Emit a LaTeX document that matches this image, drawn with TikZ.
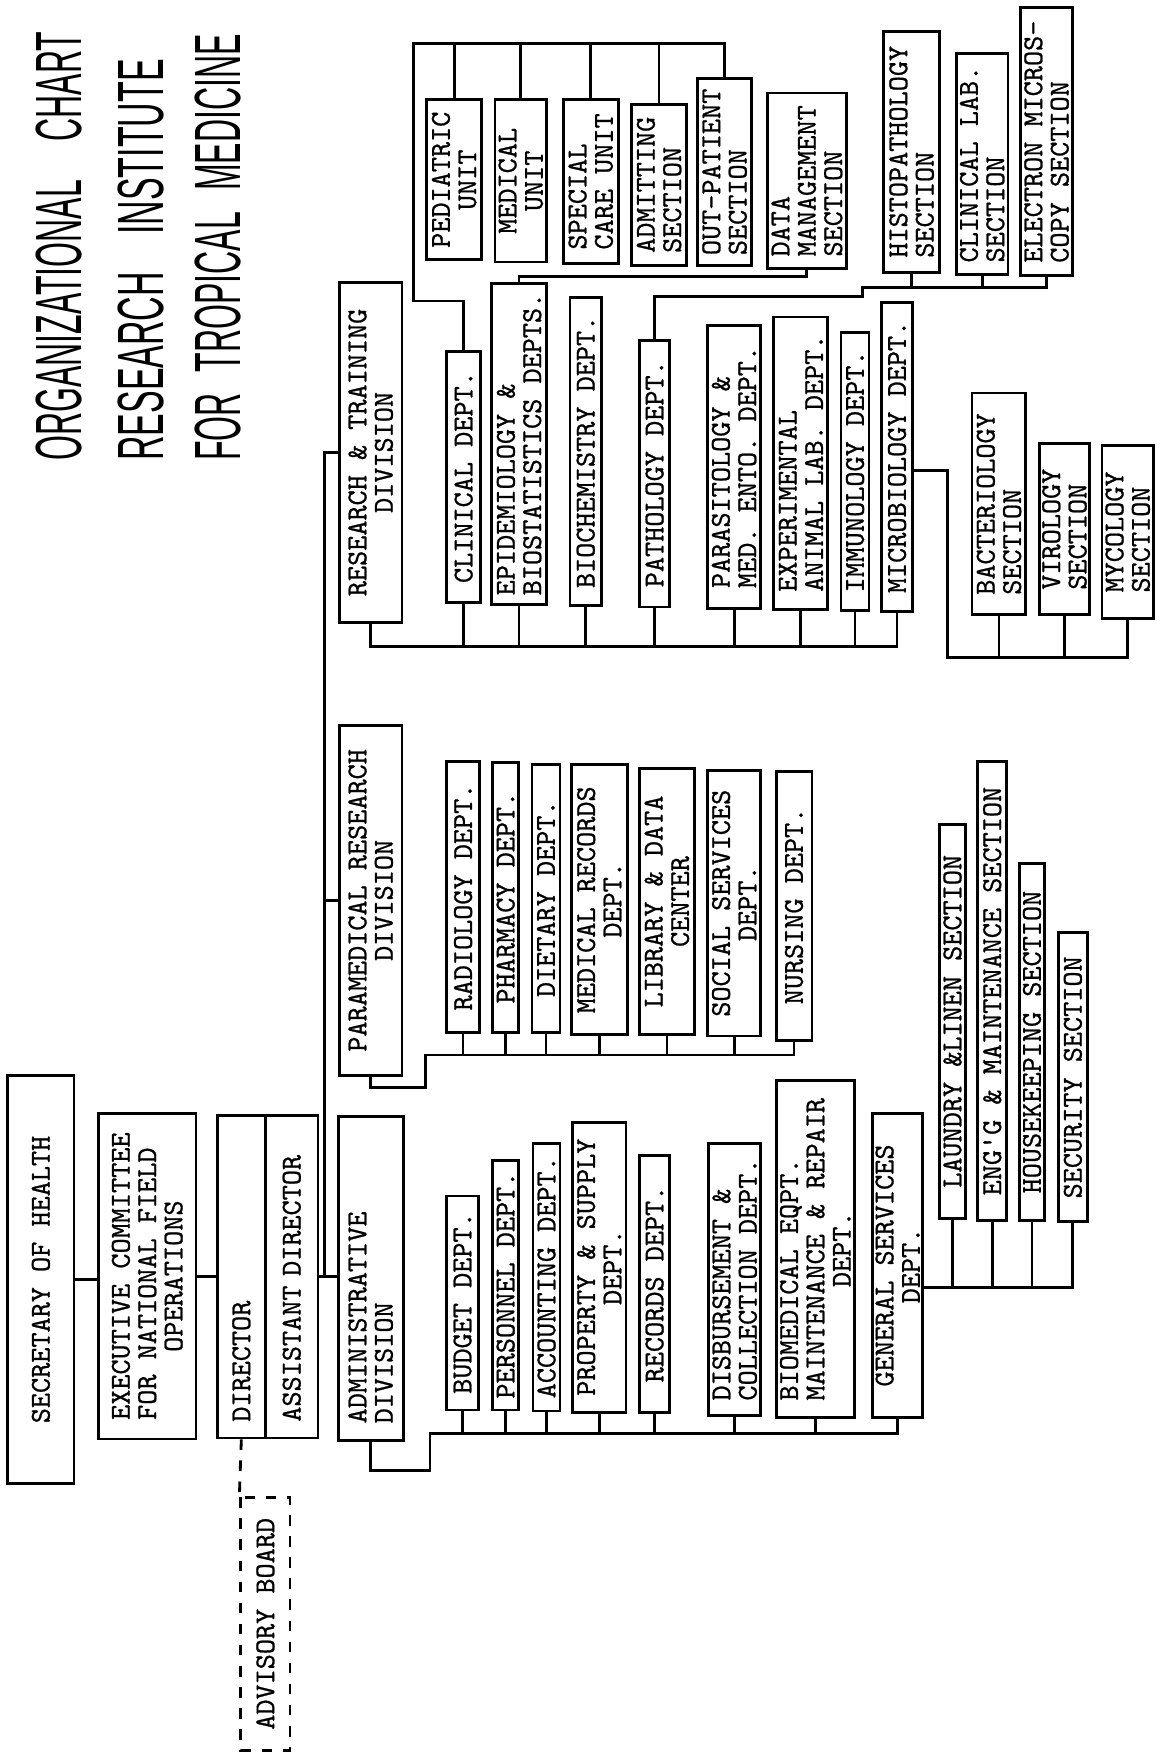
\documentclass[tikz,border=0pt]{standalone}
\usepackage{fontspec}
\usepackage{tikz}
\usetikzlibrary{positioning, calc}
\newfontfamily\typefont[FakeBold=0.8]{lmmono10-regular.otf}
\newfontfamily\titlefont[FakeStretch=0.49]{Liberation Sans}
\tikzset{
	orgbox/.style   ={rectangle, draw=black, line width=0.8pt, rotate=90, inner sep=0.8pt, font=\typefont\fontsize{8.2}{7.5}\selectfont},
	boxsize/.style 2 args={minimum width=#1*0.112mm, minimum height=#2*0.112mm},
	lefttext/.style ={align=left},
	midtext/.style  ={align=center},
	starttext/.style={text width=29mm, align=left},
	advisory/.style ={orgbox, dashed},
	link/.style     ={line width=0.8pt},
	heading/.style  ={rotate=90, anchor=base west, inner sep=0pt, font=\titlefont\fontsize{18.6}{22}\selectfont},
}
\newcommand{\gap}{\hspace{6pt}}
\begin{document}
\begin{tikzpicture}[x=0.112mm, y=-0.112mm]
	\fill[white] (0,0) rectangle (1033,1568);
	\useasboundingbox (0,0) rectangle (1033,1568);
	% title
	\node[heading] (ttl1) at (73,412) {ORGANIZATIONAL\hspace{11pt}CHART};
	\node[heading, xscale=1.06] (ttl2) at (146,412) {RESEARCH\hspace{10pt}INSTITUTE};
	\node[heading] (ttl3) at (215,412) {FOR\gap TROPICAL\gap MEDICINE};
	% top of the chart
	\node[orgbox, boxsize={365}{59}] (sec) at (36.5,1142.5) {SECRETARY OF HEALTH};
	\node[orgbox, boxsize={291}{87}, midtext] (exec) at (131.5,1139.5) {EXECUTIVE COMMITTEE\\FOR NATIONAL FIELD\phantom{E}\\OPERATIONS};
	\node[orgbox, boxsize={288}{43}, starttext] (dir) at (215.5,1140) {DIRECTOR};
	\node[orgbox, boxsize={288}{47}, starttext] (asst) at (260.5,1140) {ASSISTANT DIRECTOR};
	\node[advisory, boxsize={226}{44}] (advb) at (237,1450) {ADVISORY BOARD};
	% divisions
	\node[orgbox, boxsize={304}{56}, midtext] (rtd) at (331,404) {RESEARCH \& TRAINING\\DIVISION};
	\node[orgbox, boxsize={312}{56}, midtext] (prd) at (331,804) {PARAMEDICAL RESEARCH\\DIVISION};
	\node[orgbox, boxsize={289}{58}, starttext] (adv) at (331,1141.5) {ADMINISTRATIVE\\DIVISION};
	% research and training departments
	\node[orgbox, boxsize={224}{30}] (clin) at (414,426) {CLINICAL DEPT.};
	\node[orgbox, boxsize={287}{49}, lefttext] (epid) at (463.5,396.5) {EPIDEMIOLOGY \&\\BIOSTATISTICS DEPTS.};
	\node[orgbox, boxsize={275}{28}] (bioc) at (523,403.5) {BIOCHEMISTRY DEPT.};
	\node[orgbox, boxsize={238}{27}] (path) at (584.5,423) {PATHOLOGY DEPT.};
	\node[orgbox, boxsize={252}{47}, lefttext] (para) at (655.5,417) {PARASITOLOGY \&\\MED. ENTO. DEPT.};
	\node[orgbox, boxsize={261}{48}, lefttext] (expt) at (715,413.5) {EXPERIMENTAL\\ANIMAL LAB. DEPT.};
	\node[orgbox, boxsize={248}{25}] (immu) at (763.5,421) {IMMUNOLOGY DEPT.};
	\node[orgbox, boxsize={276}{28}] (micro) at (801,408) {MICROBIOLOGY DEPT.};
	% clinical units
	\node[orgbox, boxsize={143}{49}, midtext] (ped) at (405.5,160.5) {PEDIATRIC\\UNIT};
	\node[orgbox, boxsize={145}{46}, midtext] (medu) at (465,161.5) {MEDICAL\\UNIT};
	\node[orgbox, boxsize={146}{49}, lefttext] (scu) at (527.5,162) {SPECIAL\\CARE UNIT};
	\node[orgbox, boxsize={144}{49}, lefttext] (adm) at (588.5,165) {ADMITTING\\SECTION};
	\node[orgbox, boxsize={167}{48}, lefttext] (opd) at (647,153.5) {OUT-PATIENT\\SECTION};
	\node[orgbox, boxsize={157}{71}, lefttext] (dms) at (720.5,161.5) {DATA\\MANAGEMENT\\SECTION};
	% pathology sections
	\node[orgbox, boxsize={215}{50}, lefttext] (histo) at (814,135.5) {HISTOPATHOLOGY\\SECTION};
	\node[orgbox, boxsize={197}{46}, lefttext] (clab) at (877,146.5) {CLINICAL LAB.\\SECTION};
	\node[orgbox, boxsize={239}{47}, lefttext] (ems) at (934.5,126.5) {ELECTRON MICROS-\\COPY SECTION};
	% microbiology sections
	\node[orgbox, boxsize={198}{48}, lefttext] (bact) at (892,450) {BACTERIOLOGY\\SECTION};
	\node[orgbox, boxsize={153}{45}, lefttext] (viro) at (950.5,472.5) {VIROLOGY\\SECTION};
	\node[orgbox, boxsize={154}{46}, lefttext] (myco) at (1007,475) {MYCOLOGY\\SECTION};
	% paramedical departments
	\node[orgbox, boxsize={242}{29}] (radio) at (413.5,801) {RADIOLOGY DEPT.};
	\node[orgbox, boxsize={241}{23}] (pharm) at (451.5,801.5) {PHARMACY DEPT.};
	\node[orgbox, boxsize={239}{25}] (diet) at (487.5,802.5) {DIETARY DEPT.};
	\node[orgbox, boxsize={241}{50}, midtext] (mrec) at (535,803.5) {MEDICAL RECORDS\\DEPT.};
	\node[orgbox, boxsize={238}{49}, midtext] (libr) at (595.5,805) {LIBRARY \& DATA\\CENTER};
	\node[orgbox, boxsize={237}{47}, midtext] (socs) at (655.5,806.5) {SOCIAL SERVICES\\DEPT.};
	\node[orgbox, boxsize={240}{32}] (nurs) at (709,809) {NURSING DEPT.};
	% administrative departments
	\node[orgbox, boxsize={191}{28}] (budg) at (413,1163.5) {BUDGET DEPT.};
	\node[orgbox, boxsize={223}{23}] (pers) at (451.5,1147.5) {PERSONNEL DEPT.};
	\node[orgbox, boxsize={239}{24}] (acct) at (488,1140.5) {ACCOUNTING DEPT.};
	\node[orgbox, boxsize={259}{48}, midtext] (prop) at (535,1131.5) {PROPERTY \& SUPPLY\\DEPT.};
	\node[orgbox, boxsize={229}{27}] (recs) at (584.5,1146.5) {RECORDS DEPT.};
	\node[orgbox, boxsize={243}{46}, lefttext] (disb) at (656,1142.5) {DISBURSEMENT \&\\COLLECTION DEPT.};
	\node[orgbox, boxsize={301}{70}, midtext] (biom) at (728,1115.5) {BIOMEDICAL EQPT.\phantom{MAIN}\\MAINTENANCE \& REPAIR\\DEPT.};
	\node[orgbox, boxsize={272}{45}, midtext] (gens) at (801.5,1130) {GENERAL SERVICES\\DEPT.};
	% general services sections
	\node[orgbox, boxsize={352}{23}] (laun) at (850.5,912) {LAUNDRY \&LINEN SECTION};
	\node[orgbox, boxsize={410}{26}] (engg) at (886,885) {ENG'G \& MAINTENANCE SECTION};
	\node[orgbox, boxsize={319}{23}] (hous) at (921.5,930.5) {HOUSEKEEPING SECTION};
	\node[orgbox, boxsize={258}{26}] (secu) at (958,962) {SECURITY SECTION};
	% bends of the connectors
	\coordinate (spn) at (290,1140);
	\coordinate (cbk) at (369,39);
	\coordinate (pbk) at (770,257);
	\coordinate (mbk) at (846,587);
	\coordinate (rbus) at (331,577);
	\coordinate (pbus) at (380,942);
	\coordinate (abus) at (384,1280);
	\coordinate (mcj) at ($(micro.south)+(0,12)$);
	\coordinate (gsj) at ($(gens.south)+(0,20)$);
	% connectors
	\draw[link] (sec.south) -- (exec.north |- sec.south);
	\draw[link] (exec.south) -- (dir.north |- exec.south);
	\draw[link] (asst.south) -- (adv.north |- asst.south);
	\draw[link, dashed] (dir.west) -- (advb.north east);
	\draw[link] (spn) |- (rtd.north);
	\draw[link] (spn) |- (prd.north);
	\draw[link] (rtd.west) -- (rbus) -| (micro.west);
	\foreach \n in {clin,epid,bioc,path,para,expt,immu}
		\draw[link] (\n.west) -- (\n.west |- rbus);
	\draw[link] (clin.east) -- ++(0,-44) -| (cbk) -| (opd.east);
	\foreach \n in {ped,medu,scu,adm}
		\draw[link] (\n.east) -- (\n.east |- cbk);
	\draw[link] (epid.east) -- ++(0,-5) -| (dms.west);
	\draw[link] (path.east) -- ++(0,-38) -| (pbk) -| (ems.west);
	\foreach \n in {histo,clab}
		\draw[link] (\n.west) -- (\n.west |- pbk);
	\draw[link] (mcj) -| (mbk) -| (myco.west);
	\foreach \n in {bact,viro}
		\draw[link] (\n.west) -- (\n.west |- mbk);
	\draw[link] (prd.west) -- ++(0,10) -| (pbus) -| (nurs.west);
	\foreach \n in {radio,pharm,diet,mrec,libr,socs}
		\draw[link] (\n.west) -- (\n.west |- pbus);
	\draw[link] (adv.west) -- ++(0,26) -| (abus) -| (gens.west);
	\foreach \n in {budg,pers,acct,prop,recs,disb,biom}
		\draw[link] (\n.west) -- (\n.west |- abus);
	\draw[link] (gsj) -| (secu.west);
	\foreach \n in {laun,engg,hous}
		\draw[link] (\n.west) -- (\n.west |- gsj);
\end{tikzpicture}
\end{document}
